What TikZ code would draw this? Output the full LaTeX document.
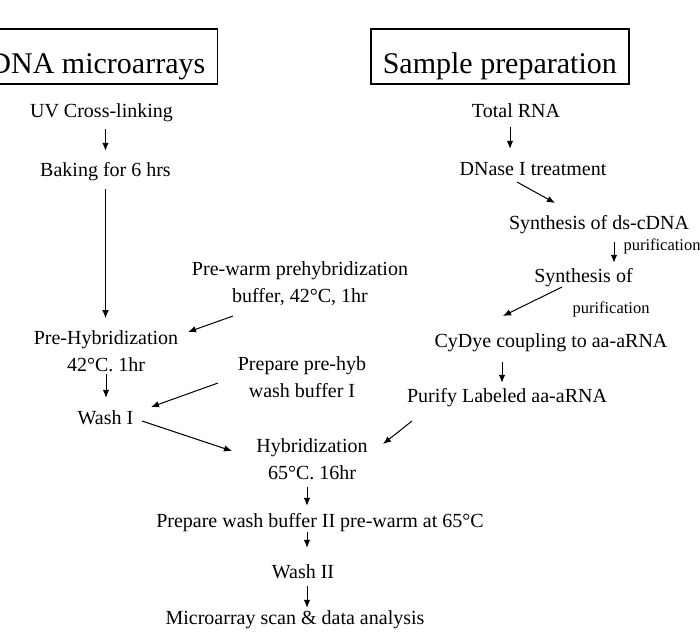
\documentclass[tikz,border=0pt]{standalone}
\usepackage{fontspec}
\setmainfont{Liberation Serif}
\usetikzlibrary{shapes,arrows.meta}
\tikzstyle{title} = [rectangle, draw, line width=1.5pt,
    font=\fontsize{30}{32}\selectfont, inner xsep=12pt, inner ysep=2.5pt,
    text height=42pt, text depth=8pt]
\tikzstyle{stage} = [font=\fontsize{20}{27}\selectfont, inner sep=0pt,
    text height=14pt, text depth=5pt, anchor=base]
\tikzstyle{twoline} = [font=\fontsize{20}{27}\selectfont, inner sep=0pt, align=center]
\tikzstyle{note} = [font=\fontsize{16.5}{18}\selectfont, inner sep=0pt, anchor=base]
\tikzstyle{line} = [draw, line width=1pt, -{Latex[length=8pt, width=6.5pt]}]

\begin{document}
\begin{tikzpicture}[x=1pt, y=-1pt]
    \useasboundingbox (0,0) rectangle (700,633);
    % Titles
    \node [title, anchor=east] (dnatitle) at (218,56.5) {DNA microarrays};
    \node [title, anchor=west] (sampletitle) at (370,56.5) {Sample preparation};
    % Left column
    \node [stage] (uv) at (101.5,117) {UV Cross-linking};
    \node [stage] (baking) at (105.5,176) {Baking for 6 hrs};
    \node [twoline] (prehyb) at (106,351) {Pre-Hybridization\\42°C. 1hr};
    \node [stage] (washI) at (105.5,424) {Wash I};
    \node [twoline] (prewarm) at (300,283.5) {Pre-warm prehybridization\\buffer, 42°C, 1hr};
    \node [twoline] (prephyb) at (302,377) {Prepare pre-hyb\\wash buffer I};
    % Right column
    \node [stage] (total) at (516,117) {Total RNA};
    \node [stage] (dnase) at (533,175) {DNase I treatment};
    \node [stage] (synthds) at (599,229) {Synthesis of ds-cDNA};
    \node [note] (purif1) at (662,250) {purification};
    \node [stage] (synthof) at (583.5,282) {Synthesis of};
    \node [note] (purif2) at (611,313) {purification};
    \node [stage] (cydye) at (551,347) {CyDye coupling to aa-aRNA};
    \node [stage] (purify) at (507,402) {Purify Labeled aa-aRNA};
    % Bottom
    \node [twoline] (hyb) at (312,459) {Hybridization\\65°C. 16hr};
    \node [stage] (prepwash) at (320,527) {Prepare wash buffer II pre-warm at 65°C};
    \node [stage] (wash2) at (303,578) {Wash II};
    \node [stage] (scan) at (295,624) {Microarray scan \& data analysis};

    \path [line, shorten <=7pt, shorten >=11pt] (baking.north |- uv.south) -- (baking.north);
    \path [line, shorten <=8pt, shorten >=12pt] (baking.south) -- (baking.south |- prehyb.north);
    \path [line, shorten <=2pt, shorten >=12pt] (prehyb.south) -- (prehyb.south |- washI.north);
    \path [line] ([xshift=-67pt,yshift=-32.5pt]prewarm.center) -- ([xshift=82pt,yshift=19pt]prehyb.center);
    \path [line] ([xshift=-84pt,yshift=-6pt]prephyb.center) -- ([xshift=45.5pt,yshift=17pt]washI.base);
    \path [line] ([xshift=36.5pt,yshift=3pt]washI.base) -- ([xshift=-80pt,yshift=8pt]hyb.center);
    \path [line, shorten <=5pt, shorten >=12pt] ([xshift=-6pt]total.south) -- ([xshift=-6pt]total.south |- dnase.north);
    \path [line] ([xshift=-16pt,yshift=-7pt]dnase.base) -- ([xshift=-44pt,yshift=26pt]synthds.base);
    \path [line, shorten <=8pt, shorten >=5pt] ([xshift=15pt]synthds.south) -- ([xshift=15pt]synthds.south |- synthof.north);
    \path [line] ([xshift=-21.5pt,yshift=-5pt]synthof.base) -- ([xshift=-48pt,yshift=31pt]cydye.base);
    \path [line, shorten <=10pt, shorten >=5pt] ([xshift=-5pt]purify.north |- cydye.south) -- ([xshift=-5pt]purify.north);
    \path [line] ([xshift=-95pt,yshift=-19pt]purify.base) -- ([xshift=71pt,yshift=15pt]hyb.center);
    \path [line, shorten <=7pt, shorten >=7pt] ([xshift=-5pt]hyb.south) -- ([xshift=-5pt]hyb.south |- prepwash.north);
    \path [line, shorten >=16pt] ([xshift=4pt]wash2.north |- prepwash.south) -- ([xshift=4pt]wash2.north);
    \path [line, shorten <=3pt, shorten >=2pt] ([xshift=4pt]wash2.south) -- ([xshift=4pt]wash2.south |- scan.north);
\end{tikzpicture}
\end{document}
